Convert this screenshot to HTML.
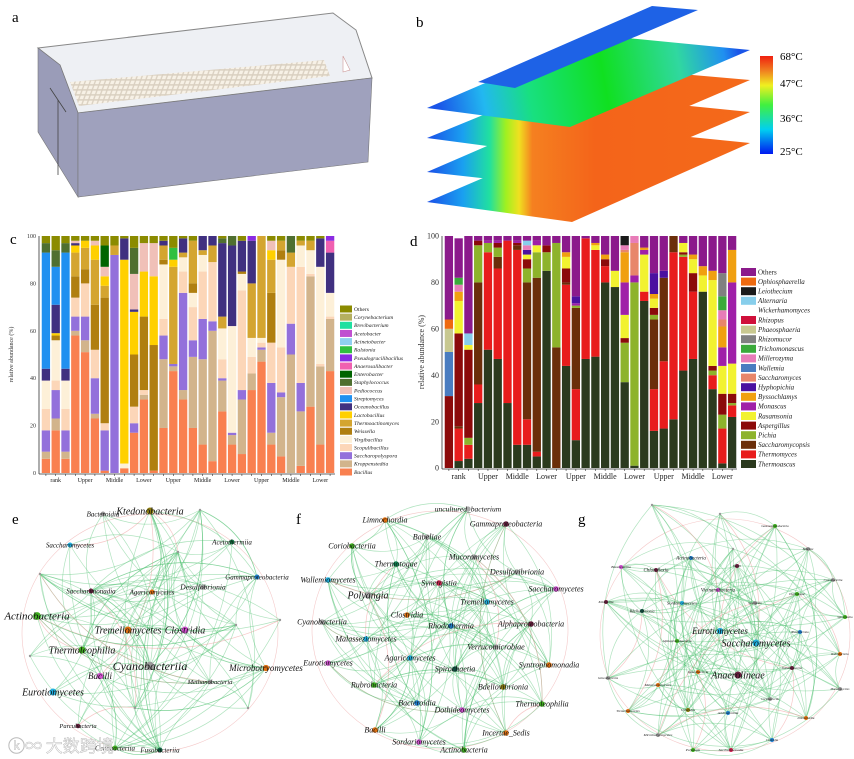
<!DOCTYPE html>
<html><head><meta charset="utf-8"><style>
html,body{margin:0;padding:0;background:#fff;}
svg{display:block;font-family:"Liberation Serif","Noto Serif CJK SC",serif;}
</style></head><body>
<svg id="fig" width="854" height="759" viewBox="0 0 854 759" xmlns="http://www.w3.org/2000/svg">
<defs>
<pattern id="tray" width="5" height="5" patternUnits="userSpaceOnUse" patternTransform="skewX(-20)">
<rect width="5" height="5" fill="#d9cfc0"/><rect x="0.6" y="0.6" width="3.6" height="3.6" fill="#f7f1e6"/></pattern>
<linearGradient id="gPlane2" gradientUnits="userSpaceOnUse" x1="440" y1="115" x2="740" y2="60">
<stop offset="0" stop-color="#1a55e8"/><stop offset="0.15" stop-color="#22b8f0"/><stop offset="0.3" stop-color="#18e080"/><stop offset="0.55" stop-color="#10e020"/><stop offset="0.8" stop-color="#30d8a0"/><stop offset="0.95" stop-color="#2090f0"/><stop offset="1" stop-color="#1a55e8"/></linearGradient>
<linearGradient id="gHot" gradientUnits="userSpaceOnUse" x1="430" y1="0" x2="760" y2="0">
<stop offset="0" stop-color="#1a55e8"/><stop offset="0.1" stop-color="#1aa0f0"/><stop offset="0.18" stop-color="#20e0a0"/><stop offset="0.23" stop-color="#a0f020"/><stop offset="0.27" stop-color="#f0e020"/><stop offset="0.31" stop-color="#f58020"/><stop offset="0.5" stop-color="#f4641a"/><stop offset="1" stop-color="#f46a1a"/></linearGradient>
<linearGradient id="gBar" x1="0" y1="1" x2="0" y2="0">
<stop offset="0" stop-color="#0018f0"/><stop offset="0.25" stop-color="#00d0f0"/><stop offset="0.5" stop-color="#40f040"/><stop offset="0.7" stop-color="#f0f020"/><stop offset="0.85" stop-color="#f08020"/><stop offset="1" stop-color="#f02010"/></linearGradient>
</defs>

<!-- Panel a -->
<g>
<text x="12" y="22" font-size="15">a</text>
<polygon points="38,48 333,13 356,30 372,78 78,113 60,65" fill="#eef0f4" stroke="#888" stroke-width="1"/>
<polygon points="70,82 324,60 330,76 79,106" fill="url(#tray)"/>
<polygon points="38,48 60,65 78,113 78,197 38,132" fill="#9a9cb8" stroke="#777" stroke-width="0.6"/>
<polygon points="78,113 372,78 368,162 78,197" fill="#9fa1bd" stroke="#777" stroke-width="0.6"/>
<line x1="58" y1="100" x2="58" y2="175" stroke="#444" stroke-width="0.8"/>
<line x1="50" y1="88" x2="66" y2="112" stroke="#444" stroke-width="0.8"/>
<polygon points="343,56 350,70 343,72" fill="#fff" stroke="#c99" stroke-width="0.6"/>
</g>

<!-- Panel b -->
<g>
<text x="416" y="27" font-size="15">b</text>
<polygon points="427,202 600,128 750,143 572,222" fill="url(#gHot)"/>
<polygon points="427,172 600,97 750,112 570,188" fill="url(#gHot)"/>
<polygon points="427,138 600,67 750,80 570,157" fill="url(#gHot)"/>
<polygon points="427,108 597,35 750,50 570,127" fill="url(#gPlane2)"/>
<polygon points="478,82 652,6 698,10 515,88" fill="#1e62e6"/>
<rect x="760" y="56" width="13" height="98" fill="url(#gBar)"/>
<g font-size="11">
<text x="780" y="60">68°C</text><text x="780" y="87">47°C</text><text x="780" y="122">36°C</text><text x="780" y="155">25°C</text></g>
</g>

<g id="panelC"></g>
<g id="panelD"></g>
<g id="nets"></g>
<text x="8" y="752" font-size="17" fill="#ffffff" fill-opacity="0.85" stroke="#bbb" stroke-width="0.5" font-family="'Noto Sans CJK SC',sans-serif">ⓚ∞ 大数跨境</text>
</svg>
<script>
// ===== Panel c data =====
const cGroups = ["rank","Upper","Middle","Lower","Upper","Middle","Lower","Upper","Middle","Lower"];
const cTicks = [0,20,40,60,80,100];
const cBacillus = [6,18,6,58,51,23,1,0,2,17,31,1,19,43,31,19,12,5,26,12,8,35,47,12,7,0,3,28,12,43];
const cKroppenstedtia = [3,5,3,2,5,2,0,0,0,0,2,0,29,2,4,30,36,55,13,4,23,7,5,5,25,50,23,55,33,22];
const cSaccharopolyspora = [9,12,9,6,10,15,17,92,0,4,0,0,10,1,41,7,17,4,1,1,4,0,1,21,2,13,12,0,0,0];
const cScopulibacillus = [9,4,9,8,14,12,3,0,0,7,2,0,7,0,9,14,20,25,8,0,42,7,2,17,19,24,49,1,1,1];
const cVirgibacillus = [12,17,12,0,0,0,0,0,2,0,0,0,23,0,6,6,7,0,13,45,7,8,2,0,37,0,9,10,41,10];
const cWeissella = [0,2,0,9,6,19,53,0,0,22,31,53,2,0,0,4,0,0,0,0,1,0,0,21,4,0,0,0,0,0];
const cThermoactinomyces = [0,0,0,10,9,19,5,4,0,0,0,0,6,41,2,18,2,7,5,0,0,23,43,14,4,6,2,4,0,0];
const cLactobacillus = [0,1,0,3,3,6,4,0,86,18,19,29,0,3,0,0,0,0,0,0,0,0,0,4,0,0,0,0,0,0];
const cOceanobacillus = [5,12,5,1,0,0,0,0,9,1,0,0,2,0,6,0,6,4,31,34,13,18,0,0,0,0,0,0,12,17];
const cStreptomyces = [49,16,49,0,0,0,0,0,0,0,0,0,0,0,0,0,0,0,0,0,0,0,0,0,0,0,0,0,0,0];
const cPediococcus = [0,0,0,1,0,2,4,0,0,15,12,14,0,0,0,0,0,0,0,0,0,0,0,4,0,0,0,0,0,0];
const cStaphylococcus = [4,7,4,0,0,0,0,0,0,11,0,0,0,0,0,0,0,0,2,4,0,0,0,0,0,7,0,0,0,0];
const cEnterobacter = [0,0,0,0,0,0,9,0,0,0,0,0,0,0,0,0,0,0,0,0,0,0,0,0,0,0,0,0,0,0];
const cAnaerosalibacter = [0,0,0,0,0,0,0,0,0,0,0,0,0,0,0,0,0,0,0,0,0,0,0,0,0,0,0,0,0,5];
const cPseudogracilibacillus = [0,0,0,0,0,0,0,0,0,0,0,0,0,0,0,0,0,0,0,0,0,2,0,0,0,0,0,0,0,2];
const cRalstonia = [0,0,0,0,0,0,0,0,0,0,0,0,0,5,0,0,0,0,0,0,0,0,0,0,0,0,0,0,0,0];
const cOthers = [3,6,3,2,2,2,4,4,1,5,3,3,2,5,1,2,0,0,1,0,2,0,0,2,2,0,2,2,1,0];
const cSeries = [
 ["Bacillus",cBacillus,"#f98050"],["Kroppenstedtia",cKroppenstedtia,"#d2b48c"],["Saccharopolyspora",cSaccharopolyspora,"#9370db"],
 ["Scopulibacillus",cScopulibacillus,"#fcd6b8"],["Virgibacillus",cVirgibacillus,"#fdf0d8"],["Weissella",cWeissella,"#b07f10"],
 ["Thermoactinomyces",cThermoactinomyces,"#d4a530"],["Lactobacillus",cLactobacillus,"#ffd000"],["Oceanobacillus",cOceanobacillus,"#403080"],
 ["Streptomyces",cStreptomyces,"#2090f0"],["Pediococcus",cPediococcus,"#f0c0b8"],["Staphylococcus",cStaphylococcus,"#4f6f30"],
 ["Enterobacter",cEnterobacter,"#006400"],["Anaerosalibacter",cAnaerosalibacter,"#f060b0"],["Pseudogracilibacillus",cPseudogracilibacillus,"#8a2be2"],
 ["Ralstonia",cRalstonia,"#30c040"],["Others",cOthers,"#8b8b00"]];
const cLegend = [["Others","#8b8b00"],["Corynebacterium","#b5b060"],["Brevibacterium","#20e0a0"],["Acetobacter","#c050d0"],["Acinetobacter","#90d0f0"],["Ralstonia","#30c040"],["Pseudogracilibacillus","#8a2be2"],["Anaerosalibacter","#f060b0"],["Enterobacter","#006400"],["Staphylococcus","#4f6f30"],["Pediococcus","#f0c0b8"],["Streptomyces","#2090f0"],["Oceanobacillus","#403080"],["Lactobacillus","#ffd000"],["Thermoactinomyces","#d4a530"],["Weissella","#b07f10"],["Virgibacillus","#fdf0d8"],["Scopulibacillus","#fcd6b8"],["Saccharopolyspora","#9370db"],["Kroppenstedtia","#d2b48c"],["Bacillus","#f98050"]];

// ===== Panel d data =====
const dGroups = ["rank","Upper","Middle","Lower","Upper","Middle","Lower","Upper","Middle","Lower"];
const dTicks = [0,20,40,60,80,100];
const dThermoascus = [0,3,4,28,51,47,28,10,10,5,85,0,44,12,47,48,80,78,37,1,72,16,17,21,42,47,76,34,2,22];
const dThermomyces = [0,14,6,8,42,39,70,84,11,2,0,0,35,22,52,46,7,0,0,0,4,18,29,72,49,29,0,6,15,5];
const dSaccharomycopsis = [0,1,0,44,0,5,0,2,59,75,0,52,1,35,0,0,0,0,0,0,0,30,36,7,0,0,0,0,0,0];
const dPichia = [0,0,3,16,4,4,0,0,6,11,8,45,0,1,0,0,0,0,17,79,0,2,0,0,1,0,0,2,6,1];
const dAspergillus = [31,40,38,2,0,2,0,1,4,0,3,0,6,0,0,0,3,0,2,0,0,3,0,0,1,8,0,2,9,4];
const dRasamsonia = [0,14,2,0,0,0,0,0,2,3,0,0,5,0,0,2,0,7,10,0,16,4,0,0,4,6,7,37,12,13];
const dMonascus = [0,0,0,0,1,1,0,1,0,2,0,0,0,1,0,0,0,0,14,3,2,0,0,0,0,0,0,0,8,35];
const dByssochlamys = [0,4,0,0,0,0,0,0,0,0,0,0,2,0,0,1,2,0,13,0,1,2,0,0,0,2,4,4,9,14];
const dHyphopichia = [0,0,0,0,0,0,0,0,2,0,0,0,0,3,0,0,0,0,0,0,0,9,3,0,0,0,0,0,0,0];
const dSaccharomyces = [0,0,0,0,0,0,0,0,0,0,0,0,0,0,0,0,0,0,1,14,0,0,0,0,0,0,0,0,3,0];
const dWallemia = [19,0,0,0,0,0,0,0,0,0,0,0,0,0,0,0,0,0,0,0,0,0,0,0,0,0,0,0,0,0];
const dMillerozyma = [0,3,0,0,0,0,0,0,2,0,0,0,0,0,0,0,0,0,2,3,0,0,0,0,0,0,0,0,4,0];
const dTrichomonascus = [0,3,0,0,0,0,0,0,0,0,0,0,0,0,0,0,0,0,0,0,0,0,0,0,0,0,0,0,6,0];
const dRhizomucor = [0,0,0,0,0,0,0,0,0,0,0,0,0,0,0,0,0,0,0,0,0,0,0,0,0,0,0,0,10,0];
const dPhaeosphaeria = [10,0,0,0,0,0,0,0,0,0,0,0,0,0,0,0,0,0,0,0,0,0,0,0,0,0,0,0,0,0];
const dAlternaria = [0,0,5,0,0,0,0,0,2,0,0,0,0,0,0,0,0,0,0,0,0,0,0,0,0,0,0,0,0,0];
const dLeiothecium = [0,0,0,0,0,0,0,0,0,0,0,0,0,0,0,0,0,0,4,0,0,0,0,0,0,0,0,0,0,0];
const dOphiosphaerella = [4,0,0,0,0,0,0,0,0,0,0,0,0,0,0,0,0,0,0,0,0,0,0,0,0,0,0,0,0,0];
const dOthers = [36,17,42,2,2,2,2,2,2,2,4,3,7,26,1,3,8,15,0,0,5,16,15,0,3,8,13,15,16,6];
const dSeries = [
 ["Thermoascus",dThermoascus,"#2b3a1e"],["Thermomyces",dThermomyces,"#e81c1c"],["Saccharomycopsis",dSaccharomycopsis,"#6b2e0a"],
 ["Pichia",dPichia,"#8db32b"],["Aspergillus",dAspergillus,"#8b0a0a"],["Rasamsonia",dRasamsonia,"#f2f230"],["Monascus",dMonascus,"#a020a8"],
 ["Byssochlamys",dByssochlamys,"#f0a010"],["Hyphopichia",dHyphopichia,"#4b10a0"],["Saccharomyces",dSaccharomyces,"#e8866a"],
 ["Wallemia",dWallemia,"#4a7cc0"],["Millerozyma",dMillerozyma,"#e87cb8"],["Trichomonascus",dTrichomonascus,"#3aaa3a"],
 ["Rhizomucor",dRhizomucor,"#808080"],["Phaeosphaeria",dPhaeosphaeria,"#c8c890"],["Alternaria",dAlternaria,"#87ceeb"],
 ["Leiothecium",dLeiothecium,"#1a1a1a"],["Ophiosphaerella",dOphiosphaerella,"#ee6a10"],["Others",dOthers,"#8b1a8b"]];
const dLegend = [["Others","#8b1a8b"],["Ophiosphaerella","#ee6a10"],["Leiothecium","#1a1a1a"],["Alternaria","#87ceeb"],["Wickerhamomyces","#ffffff"],["Rhizopus","#d0103a"],["Phaeosphaeria","#c8c890"],["Rhizomucor","#808080"],["Trichomonascus","#3aaa3a"],["Millerozyma","#e87cb8"],["Wallemia","#4a7cc0"],["Saccharomyces","#e8866a"],["Hyphopichia","#4b10a0"],["Byssochlamys","#f0a010"],["Monascus","#a020a8"],["Rasamsonia","#f2f230"],["Aspergillus","#8b0a0a"],["Pichia","#8db32b"],["Saccharomycopsis","#6b2e0a"],["Thermomyces","#e81c1c"],["Thermoascus","#2b3a1e"]];

const NS="http://www.w3.org/2000/svg";
function mk(tag,attrs,parent){const e=document.createElementNS(NS,tag);for(const k in attrs)e.setAttribute(k,attrs[k]);parent.appendChild(e);return e;}

function drawStack(g,cfg){
  const n=cfg.series[0][1].length, step=(cfg.x1-cfg.x0)/n, bw=step*cfg.fill;
  const xOf=i=>cfg.x0+i*step+(step-bw)/2;
  const yOf=v=>cfg.yb-(v/100)*(cfg.yb-cfg.yt);
  const lab=mk("text",{x:cfg.labelX,y:cfg.labelY,"font-size":15},g);lab.textContent=cfg.letter;
  
  
  for(let i=0;i<n;i++){
    let acc=0;
    for(const [name,vals,col] of cfg.series){
      const v=vals[i]; if(!v){continue;}
      const r=mk("rect",{x:xOf(i),y:yOf(acc+v),width:bw,height:yOf(acc)-yOf(acc+v),fill:col},g);
      
      
      acc+=v;
    }
  }
  const ax=mk("line",{x1:cfg.x0-2,y1:cfg.yt,x2:cfg.x0-2,y2:cfg.yb+1,stroke:"#333","stroke-width":0.8},g);
  
  
  const bx=mk("line",{x1:cfg.x0-2,y1:cfg.yb+1,x2:cfg.x1,y2:cfg.yb+1,stroke:"#333","stroke-width":0.8},g);
  
  
  for(const t of cfg.ticks){
    const tl=mk("text",{x:cfg.x0-5,y:yOf(t)+cfg.fs/3,"font-size":cfg.fs,"text-anchor":"end",fill:"#333"},g);tl.textContent=t;
    
    
  }
  for(let i=0;i<n;i++) mk("line",{x1:xOf(i)+bw/2,y1:cfg.yb+1,x2:xOf(i)+bw/2,y2:cfg.yb+3,stroke:"#333","stroke-width":0.6},g);
  cfg.groups.forEach((s,k)=>{
    const tx=mk("text",{x:cfg.x0+(k*3+1.5)*step,y:cfg.yb+cfg.fs+3,"font-size":cfg.fs,"text-anchor":"middle",fill:"#222"},g);tx.textContent=s;
    
    
  });
  const yt=mk("text",{x:0,y:0,"font-size":cfg.fs,"text-anchor":"middle",fill:"#333",transform:`translate(${cfg.ytX},${(cfg.yt+cfg.yb)/2}) rotate(-90)`},g);
  yt.textContent="relative abundance (%)";
  
  
  cfg.legend.forEach(([name,col],k)=>{
    const y=cfg.ly0+k*cfg.lstep;
    const sw=mk("rect",{x:cfg.lx,y:y-cfg.sh/2,width:cfg.sw,height:cfg.sh,fill:col},g);
    
    
    const lt=mk("text",{x:cfg.lx+cfg.sw+2,y:y+cfg.lfs/3,"font-size":cfg.lfs,"font-style":name==="Others"?"normal":"italic",fill:"#222"},g);lt.textContent=name;
    
    
  });
}
drawStack(document.getElementById("panelC"),{letter:"c",labelX:10,labelY:244,series:cSeries,x0:41,x1:335,yt:236,yb:473,fill:0.85,ticks:cTicks,fs:6,groups:cGroups,ytX:13,legend:cLegend,lx:340,ly0:309,lstep:8.15,sw:12,sh:7,lfs:5.6});
drawStack(document.getElementById("panelD"),{letter:"d",labelX:410,labelY:246,series:dSeries,x0:444,x1:737,yt:236,yb:468,fill:0.85,ticks:dTicks,fs:8,groups:dGroups,ytX:424,legend:dLegend,lx:741,ly0:272,lstep:9.6,sw:15,sh:8,lfs:7});

// ===== Networks =====
const netE = [["Bacteroidia",103,514,"#999",7],["Ktedonobacteria",150,511,"#8a7a10",10],["Saccharomycetes",70,545,"#20b0e0",7],["Acetothermiia",232,542,"#107040",7],["Gammaproteobacteria",257,577,"#2080d0",7],["Saccharimonadia",91,591,"#6b2040",7],["Agaricomycetes",152,592,"#e07010",7],["Desulfobrionia",203,587,"#999",7.5],["Actinobacteria",37,616,"#40b020",11],["Tremellomycetes",128,630,"#e07010",10],["Clostridia",185,630,"#d050d0",10],["Thermoleophilia",82,650,"#40b020",10],["Cyanobacteriia",150,666,"#999",12],["Microbotryomycetes",266,668,"#e07010",9],["Bacilli",100,676,"#d050d0",9],["Methanobacteria",210,682,"#999",6.5],["Eurotiomycetes",53,692,"#20b0e0",10],["Parcubacteria",78,726,"#6b2040",6.5],["Cenobacteriia",115,748,"#40b020",7],["Fusobacteriia",160,750,"#106040",7],["",40,574,"#999",0],["",30,656,"#999",0],["",135,708,"#999",0],["",280,620,"#999",0],["",248,708,"#999",0],["",200,510,"#999",0],["",178,552,"#999",0],["",236,625,"#999",0]];
const netF = [["uncultured_bacterium",468,509,"#aaa",7.5],["Limnochordia",385,520,"#e07010",8],["Gammaproteobacteria",506,524,"#6b2040",8],["Babeliae",427,537,"#aaa",8],["Coriobacteriia",352,546,"#40b020",8],["Mucoromycetes",474,557,"#aaa",8],["Thermotogae",396,564,"#108050",8],["Desulfovibrionia",517,572,"#aaa",8],["Wallemiomycetes",328,580,"#20b0e0",8],["Synergistia",439,583,"#d02050",8],["Saccharomycetes",556,589,"#d050d0",8],["Polyangia",368,595,"#aaa",10],["Tremellomycetes",487,602,"#20b0e0",8],["Clostridia",407,615,"#e07010",8],["Cyanobacteriia",322,622,"#aaa",8],["Rhodothermia",451,626,"#2080d0",8],["Alphaproteobacteria",531,624,"#6b2040",8],["Malasseziomycetes",366,639,"#20b0e0",8],["Verrucomicrobiae",496,647,"#aaa",8],["Agaricomycetes",410,658,"#20b0e0",8],["Eurotiomycetes",328,663,"#d050d0",8],["Spirochaetia",455,669,"#105040",8],["Syntrophomonadia",549,665,"#e07010",8],["Rubrobacteria",374,685,"#40b020",8],["Bdellovibrionia",503,687,"#8a7a10",8],["Bacteroidia",417,703,"#2080d0",8],["Thermoleophilia",542,704,"#40b020",8],["Dothideomycetes",462,710,"#d050d0",8],["Bacilli",375,730,"#e07010",8],["Incertae_Sedis",506,733,"#e07010",8],["Sordariomycetes",419,742,"#d050d0",8],["Actinobacteria",464,750,"#40b020",8]];
const netG = [["Actinobacteria",691,558,"#2080d0",5],["Vicinamibacteria",718,590,"#d050d0",5],["Chloroflexia",656,570,"#6b2040",5],["Blastocatellia",621,567,"#d050d0",3.5],["Sordariomycetes",682,603,"#20b0e0",4.5],["Bdellovibrionia",642,611,"#105040",4],["Kiloniellia",606,602,"#6b2040",3.5],["Eurotiomycetes",720,631,"#20b0e0",9],["Saccharomycetes",756,643,"#20b0e0",10],["Alphaproteobacteria",677,641,"#40b020",3.5],["Anaerolineae",738,675,"#6b2040",10],["Ignavibacteria",698,672,"#e07010",3.5],["Malasseziomycetes",658,685,"#e07010",3.5],["Gloeobacteria",608,678,"#999",3.5],["Tremellomycetes",628,711,"#e07010",3.5],["Chlorobia",688,710,"#8a7a10",3.5],["Acidimicrobiia",728,713,"#2080d0",3.5],["Microbotryomycetes",658,735,"#999",3.5],["Polyangia",693,750,"#40b020",3.5],["Saccharimonadia",731,750,"#d02050",3.5],["Gammaproteobacteria",775,526,"#40b020",3],["Babeliae",808,549,"#999",3],["Cyanobacteriia",833,580,"#999",3],["Thermotogae",797,594,"#40b020",3],["Spirochaetia",845,617,"#40b020",3],["Bacilli",737,566,"#6b2040",3],["Synergistia",755,603,"#999",3],["Rhodothermia",800,632,"#2080d0",3],["Rubrobacteria",840,654,"#e07010",3],["Dothideomycetes",792,668,"#6b2040",3],["Mucoromycetes",840,689,"#999",3],["Coriobacteriia",770,699,"#999",3],["Limnochordia",806,718,"#e07010",3],["Clostridia",772,740,"#2080d0",3],["",720,514,"#999",0],["",652,505,"#999",0],["",733,549,"#999",0]];
const netLetters=[["e",12,524],["f",296,524],["g",578,524]];
const netsG=document.getElementById("nets");
netLetters.forEach(([l,x,y])=>{const t=mk("text",{x:x,y:y,"font-size":15},netsG);t.textContent=l;
  
  });
function drawNet(nodes,name,cx,cy,r){
  const g=mk("g",{},netsG);
  
  
  mk("ellipse",{cx:cx,cy:cy,rx:r,ry:r*0.93,fill:"none",stroke:"#f0b0b0","stroke-width":0.6,"stroke-opacity":0.7},g);
  const n=nodes.length;
  for(let i=0;i<n;i++){for(const k of [1,3,5,8,11]){const j=(i*7+k*5)%n;if(j===i)continue;
    const a=nodes[i],b=nodes[j];const mx=(a[1]+b[1])/2,my=(a[2]+b[2])/2;const dx=b[1]-a[1],dy=b[2]-a[2];const s=((i+k)%2?1:-1)*0.25;
    const pink=((i*3+k)%9===0);
    mk("path",{d:`M${a[1]},${a[2]} Q${mx-dy*s},${my+dx*s} ${b[1]},${b[2]}`,fill:"none",stroke:pink?"#f09090":"#50c070","stroke-opacity":pink?0.5:0.45,"stroke-width":0.7},g);}}
  for(const [lab,x,y,col,fs] of nodes){
    const c=mk("circle",{cx:x,cy:y,r:fs?Math.max(2,fs*0.35):1.2,fill:col},g);
    
    
    if(lab){const t=mk("text",{x:x,y:y+fs/3,"font-size":fs,"font-style":"italic","text-anchor":"middle",fill:"#111"},g);t.textContent=lab;
      
      }
  }
}
drawNet(netE,"panel-e-network",150,633,128);
drawNet(netF,"panel-f-network",440,630,128);
drawNet(netG,"panel-g-network",725,635,125);
</script>
</body></html>
